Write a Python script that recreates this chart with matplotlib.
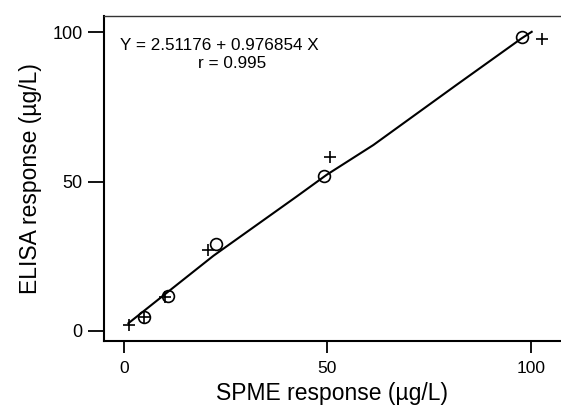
import matplotlib
matplotlib.use("Agg")
import matplotlib.pyplot as plt

plt.rcParams['font.family'] = ['Liberation Sans', 'DejaVu Sans']

# data (µg/L)
circle_x = [97.7, 49.1, 22.5, 10.9, 5.0]
circle_y = [98.5, 51.9, 29.0, 11.8, 4.8]
plus_x = [1.3, 5.0, 10.2, 20.7, 50.6, 102.8]
plus_y = [2.0, 4.8, 11.3, 27.1, 58.2, 97.7]
# fitted line as drawn (vertices)
fit_x = [1.1, 10.9, 22.0, 42.4, 49.8, 61.3, 81.7, 97.7, 100.2]
fit_y = [2.6, 13.2, 25.2, 45.0, 52.3, 62.3, 82.4, 98.0, 100.2]
ticks = [0, 50, 100]

fig = plt.figure(figsize=(5.61, 4.09), dpi=100)
ax = fig.add_axes([104 / 561, 68 / 409, 1 - 104 / 561, 325 / 409])

ax.plot(fit_x, fit_y, color="black", lw=1.5, zorder=2)
ax.plot(circle_x, circle_y, "o", ms=8.5, mfc="none", mec="black", mew=1.2, zorder=3)
ax.plot(plus_x, plus_y, "+", ms=8, mec="black", mew=1.2, zorder=3)

ax.set_xlim(-4.9, 107.4)
ax.set_ylim(-3.35, 105.5)
ax.set_xticks(ticks)
ax.set_yticks(ticks)

ax.spines["right"].set_visible(False)
ax.spines["left"].set_linewidth(1.5)
ax.spines["bottom"].set_linewidth(1.5)
ax.spines["top"].set_linewidth(1.0)
ax.spines["top"].set_color("#333333")

ax.tick_params(axis="x", length=8.5, width=1.3, pad=6, labelsize=12.5)
ax.tick_params(axis="y", length=11.5, width=1.3, pad=4, labelsize=13)

ax.set_xlabel("SPME response (µg/L)", fontsize=16.5, labelpad=4)
ax.set_ylabel("ELISA response (µg/L)", fontsize=16.5, labelpad=7)

ax.text(120 / 561, 1 - 45 / 409, "Y = 2.51176 + 0.976854 X", transform=fig.transFigure,
        fontsize=12.3, ha="left", va="center")
ax.text(232 / 561, 1 - 64 / 409, "r = 0.995", transform=fig.transFigure,
        fontsize=12.3, ha="center", va="center")

fig.savefig("out.png", dpi=100)
